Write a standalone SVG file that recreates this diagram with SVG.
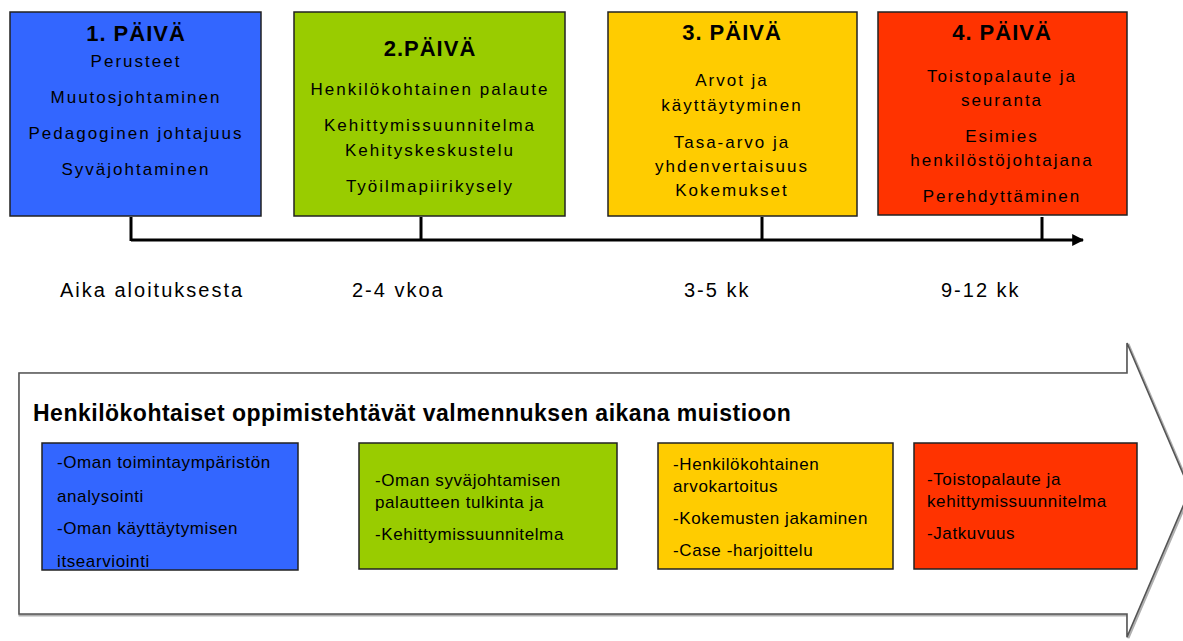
<svg xmlns="http://www.w3.org/2000/svg" width="1183" height="641" viewBox="0 0 1183 641">
<defs>
<style>
.box{stroke:#222;stroke-width:1.5}
.blue{fill:#3366FF}.green{fill:#99CC00}.yellow{fill:#FFCC00}.red{fill:#FF3300}
.t{font-family:"Liberation Sans",Arial,sans-serif;font-size:17px;fill:#000;letter-spacing:2px}
.c{text-anchor:middle}
.h{font-family:"Liberation Sans",Arial,sans-serif;font-size:22px;font-weight:bold;fill:#000;text-anchor:middle;letter-spacing:1px}
.lab{font-family:"Liberation Sans",Arial,sans-serif;font-size:20px;fill:#000;letter-spacing:2px}
.s{font-family:"Liberation Sans",Arial,sans-serif;font-size:17px;fill:#000;letter-spacing:0.6px}
.title{font-family:"Liberation Sans",Arial,sans-serif;font-size:23px;font-weight:bold;fill:#000;letter-spacing:0.5px}
</style>
<marker id="ah" viewBox="0 0 10 10" refX="9" refY="5" markerWidth="4" markerHeight="4" orient="auto"><path d="M0,0 L10,5 L0,10 z" fill="#000"/></marker>
</defs>
<rect width="1183" height="641" fill="#fff"/>

<g id="big-arrow">
<path d="M19,373 H1127 V343 L1190,490 L1127,637 V614 H19 Z" fill="#fff" stroke="#b0b0b0" stroke-width="3" transform="translate(1,1)"/>
<path d="M19,373 H1127 V343 L1190,490 L1127,637 V614 H19 Z" fill="#fff" stroke="#555" stroke-width="1.6"/>
<text class="title" x="33" y="421">Henkilökohtaiset oppimistehtävät valmennuksen aikana muistioon</text>
</g>

<g id="connectors">
<line x1="131" y1="240" x2="1083" y2="240" stroke="#000" stroke-width="3" marker-end="url(#ah)"/>
<line x1="131" y1="217" x2="131" y2="241" stroke="#000" stroke-width="3"/>
<line x1="421" y1="217" x2="421" y2="241" stroke="#000" stroke-width="3"/>
<line x1="762" y1="217" x2="762" y2="241" stroke="#000" stroke-width="3"/>
<line x1="1042" y1="217" x2="1042" y2="241" stroke="#000" stroke-width="3"/>
</g>

<g id="day1">
<rect class="box blue" x="10" y="12" width="251" height="204"/>
<text class="h" x="136" y="41">1. PÄIVÄ</text>
<text class="t c" x="136" y="67">Perusteet</text>
<text class="t c" x="136" y="103">Muutosjohtaminen</text>
<text class="t c" x="136" y="139">Pedagoginen johtajuus</text>
<text class="t c" x="136" y="175">Syväjohtaminen</text>
</g>

<g id="day2">
<rect class="box green" x="294" y="12" width="271" height="204"/>
<text class="h" x="430" y="56">2.PÄIVÄ</text>
<text class="t c" x="430" y="95">Henkilökohtainen palaute</text>
<text class="t c" x="430" y="131">Kehittymissuunnitelma</text>
<text class="t c" x="430" y="156">Kehityskeskustelu</text>
<text class="t c" x="430" y="192">Työilmapiirikysely</text>
</g>

<g id="day3">
<rect class="box yellow" x="608" y="12" width="249" height="204"/>
<text class="h" x="732" y="40">3. PÄIVÄ</text>
<text class="t c" x="732" y="86">Arvot ja</text>
<text class="t c" x="732" y="111">käyttäytyminen</text>
<text class="t c" x="732" y="148">Tasa-arvo ja</text>
<text class="t c" x="732" y="172">yhdenvertaisuus</text>
<text class="t c" x="732" y="196">Kokemukset</text>
</g>

<g id="day4">
<rect class="box red" x="878" y="12" width="249" height="203"/>
<text class="h" x="1002" y="40">4. PÄIVÄ</text>
<text class="t c" x="1002" y="82">Toistopalaute ja</text>
<text class="t c" x="1002" y="106">seuranta</text>
<text class="t c" x="1002" y="142">Esimies</text>
<text class="t c" x="1002" y="166">henkilöstöjohtajana</text>
<text class="t c" x="1002" y="202">Perehdyttäminen</text>
</g>

<g id="time-labels">
<text class="lab" x="60" y="297">Aika aloituksesta</text>
<text class="lab" x="352" y="297">2-4 vkoa</text>
<text class="lab" x="684" y="297">3-5 kk</text>
<text class="lab" x="941" y="297">9-12 kk</text>
</g>

<g id="task1">
<rect class="box blue" x="42" y="443" width="256" height="127"/>
<text class="s" x="57" y="468">-Oman toimintaympäristön</text>
<text class="s" x="57" y="502">analysointi</text>
<text class="s" x="57" y="534">-Oman käyttäytymisen</text>
<text class="s" x="57" y="567">itsearviointi</text>
</g>

<g id="task2">
<rect class="box green" x="359" y="443" width="258" height="126"/>
<text class="s" x="375" y="486">-Oman syväjohtamisen</text>
<text class="s" x="375" y="508">palautteen tulkinta ja</text>
<text class="s" x="375" y="540">-Kehittymissuunnitelma</text>
</g>

<g id="task3">
<rect class="box yellow" x="658" y="443" width="235" height="126"/>
<text class="s" x="673" y="470">-Henkilökohtainen</text>
<text class="s" x="673" y="492">arvokartoitus</text>
<text class="s" x="673" y="524">-Kokemusten jakaminen</text>
<text class="s" x="673" y="556">-Case -harjoittelu</text>
</g>

<g id="task4">
<rect class="box red" x="914" y="443" width="223" height="126"/>
<text class="s" x="927" y="485">-Toistopalaute ja</text>
<text class="s" x="927" y="507">kehittymissuunnitelma</text>
<text class="s" x="927" y="539">-Jatkuvuus</text>
</g>
</svg>
